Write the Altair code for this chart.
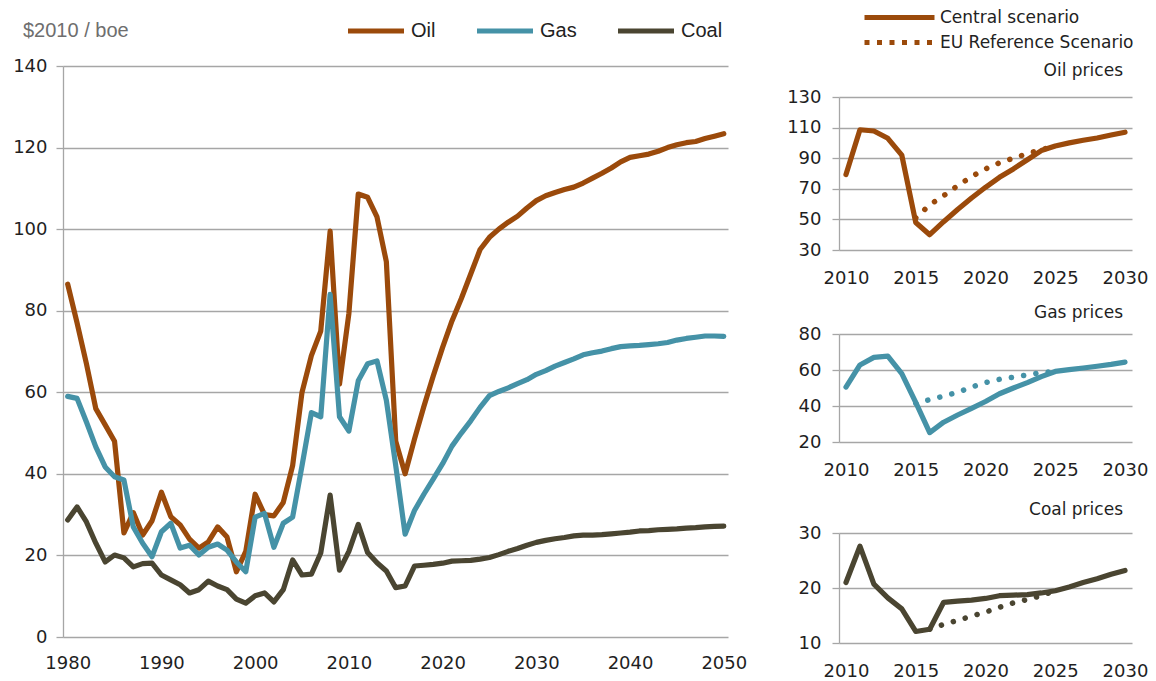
import altair as alt
import pandas as pd

# ---------------- data ----------------
years = list(range(1980, 2051))

oil = [
    86.5, 77, 67, 56, 52, 48, 25.5, 30.5, 25, 28.5,          # 1980-1989
    35.5, 29.5, 27.5, 24, 21.8, 23.3, 27, 24.5, 16, 21,       # 1990-1999
    35, 30, 29.7, 33, 42, 60, 69, 75, 99.5, 62,               # 2000-2009
    79.3, 108.6, 107.8, 103, 92, 48, 40, 48.5, 56.5, 64,      # 2010-2019
    71, 77.5, 83, 89, 95, 98, 100, 101.7, 103.2, 105.2,       # 2020-2029
    107, 108.2, 109, 109.7, 110.3, 111.3, 112.5, 113.7, 115, 116.5,  # 2030-2039
    117.6, 118, 118.4, 119.1, 120, 120.7, 121.2, 121.5, 122.2, 122.8,  # 2040-2049
    123.4,                                                    # 2050
]
gas = [
    59, 58.5, 52.7, 46.6, 41.7, 39.3, 38.5, 27, 23, 19.7,
    25.8, 27.9, 21.8, 22.5, 20.1, 22, 22.8, 21.3, 18.4, 16,
    29.4, 30.3, 22, 27.9, 29.4, 42, 55, 54, 84, 54,
    50.5, 62.8, 67, 67.7, 58, 42, 25.2, 31, 35, 38.7,
    42.5, 46.8, 50, 53, 56.3, 59.2, 60.2, 61.1, 62.1, 63.1,
    64.4, 65.3, 66.4, 67.3, 68.2, 69.2, 69.7, 70.1, 70.7, 71.2,
    71.4, 71.5, 71.7, 71.9, 72.2, 72.8, 73.2, 73.5, 73.8, 73.8,
    73.7,
]
coal = [
    28.7, 31.9, 28.2, 23, 18.4, 20.1, 19.4, 17.2, 18, 18.1,
    15.2, 14, 12.8, 10.8, 11.6, 13.7, 12.5, 11.6, 9.3, 8.3,
    10.1, 10.8, 8.6, 11.6, 18.9, 15.2, 15.4, 20.6, 34.8, 16.4,
    21, 27.6, 20.7, 18.2, 16.2, 12.1, 12.5, 17.4, 17.6, 17.8,
    18.1, 18.6, 18.7, 18.8, 19.1, 19.5, 20.2, 21, 21.7, 22.5,
    23.2, 23.7, 24.1, 24.4, 24.8, 25, 25, 25.1, 25.3, 25.5,
    25.7, 26, 26.1, 26.3, 26.4, 26.5, 26.7, 26.8, 27, 27.1,
    27.2,
]
fuels = ["Oil", "Gas", "Coal"]

# EU Reference Scenario (dotted lines in the small panels)
oil_ref_years = list(range(2015, 2026))
oil_ref = [51, 59.5, 65.5, 72, 78, 83, 87, 90, 93, 95.5, 98]
gas_ref_years = list(range(2015, 2026))
gas_ref = [41.5, 43.5, 45.5, 47.6, 50.5, 53, 54.8, 56, 57.3, 58.6, 59.2]
coal_ref_years = list(range(2016, 2026))
coal_ref = [12.5, 13.4, 14.1, 14.9, 15.6, 16.5, 17.3, 17.9, 18.6, 19.5]

scenarios = ["Central scenario", "EU Reference Scenario"]
main_ticks = [1980, 1990, 2000, 2010, 2020, 2030, 2040, 2050]
small_ticks = [2010, 2015, 2020, 2025, 2030]

# ---------------- style ----------------
FONT = "DejaVu Sans"
LFONT = "Liberation Sans"
OIL_C, GAS_C, COAL_C = "#9B4A0B", "#4592A7", "#4A4531"
GRID_C = "#A6A6A6"
TXT_C = "#1f1f1f"

main_df = pd.DataFrame({
    "year": years * 3,
    "fuel": ["Oil"] * len(years) + ["Gas"] * len(years) + ["Coal"] * len(years),
    "value": oil + gas + coal,
})

# legend swatch: a long horizontal stroke (unit size 14 px -> path spans 56 px)
MAIN_SWATCH = "M-1,0H7"
color_enc = alt.Color(
    "fuel:N",
    scale=alt.Scale(domain=fuels, range=[OIL_C, GAS_C, COAL_C]),
    legend=alt.Legend(
        title="$2010 / boe", titleOrient="left", titleFont=LFONT, titleFontSize=20,
        titleFontWeight="normal", titleColor="#6e6e6e", titlePadding=216,
        titleBaseline="middle",
        orient="none", legendX=-40, legendY=-45, direction="horizontal",
        symbolType=MAIN_SWATCH, symbolSize=196, symbolStrokeWidth=5,
        labelFont=LFONT, labelFontSize=20, labelColor="#222222", labelOffset=46,
        columnPadding=31, labelLimit=300,
    ),
)

mx = alt.X("year:Q", scale=alt.Scale(domain=[1979.5, 2050.45], nice=False, zero=False),
           axis=alt.Axis(values=main_ticks, format="d", title=None, grid=False, domain=False,
                         ticks=False, tickSize=0, labelPadding=17, labelFont=FONT,
                         labelFontSize=18, labelColor=TXT_C, labelFlush=False))
my = alt.Y("value:Q", scale=alt.Scale(domain=[0, 140], nice=False, zero=True),
           axis=alt.Axis(values=list(range(0, 141, 20)), title=None, grid=True,
                         gridColor=GRID_C, gridWidth=1.3, domain=True, domainColor=GRID_C,
                         domainWidth=1.3, ticks=True, tickColor=GRID_C, tickSize=7, tickWidth=1.3,
                         labelPadding=9, labelFont=FONT, labelFontSize=18, labelColor=TXT_C))

main_layers = []
for f in fuels:
    main_layers.append(
        alt.Chart(main_df).transform_filter(alt.datum.fuel == f)
        .mark_line(strokeWidth=5.2, strokeJoin="round", strokeCap="round")
        .encode(x=mx, y=my, color=color_enc)
    )
main = alt.layer(*main_layers).properties(width=665, height=571)


def small(vals, ref_years, ref_vals, color, ydom, ystep, h, title, toff):
    cdf = pd.DataFrame({"year": years[30:51], "value": vals[30:51]})
    rdf = pd.DataFrame({"year": ref_years, "value": ref_vals})
    x = alt.X("year:Q", scale=alt.Scale(domain=[2009.5, 2030.5], nice=False, zero=False),
              axis=alt.Axis(values=small_ticks, format="d", title=None, grid=False, domain=False,
                            ticks=False, tickSize=0, labelPadding=19, labelFont=FONT,
                            labelFontSize=18, labelColor=TXT_C, labelFlush=False))
    y = alt.Y("value:Q", scale=alt.Scale(domain=ydom, nice=False, zero=False),
              axis=alt.Axis(values=list(range(ydom[0], ydom[1] + 1, ystep)), title=None,
                            grid=True, gridColor=GRID_C, gridWidth=1.3, domain=True,
                            domainColor=GRID_C, domainWidth=1.3, ticks=True, tickColor=GRID_C,
                            tickSize=7, tickWidth=1.3, labelPadding=11, labelFont=FONT,
                            labelFontSize=18, labelColor=TXT_C))
    ref = alt.Chart(rdf).mark_line(color=color, strokeWidth=5.5, strokeCap="round",
                                   strokeDash=[0.1, 12.3]).encode(x=x, y=y)
    cen = alt.Chart(cdf).mark_line(color=color, strokeWidth=5.2, strokeCap="round",
                                   strokeJoin="round").encode(x=x, y=y)
    return alt.layer(ref, cen).properties(
        width=293, height=h,
        title=alt.Title(title, anchor="end", frame="group", offset=toff, dx=-9, fontSize=17,
                        font=FONT, fontWeight="normal", color=TXT_C),
    )


oil_c = small(oil, oil_ref_years, oil_ref, OIL_C, [30, 130], 20, 153, "Oil prices", 8)
gas_c = small(gas, gas_ref_years, gas_ref, GAS_C, [20, 80], 20, 108, "Gas prices", 3)
coal_c = small(coal, coal_ref_years, coal_ref, COAL_C, [10, 30], 10, 110, "Coal prices", 5)

# scenario legend swatch: unit size 14 px -> path spans 70 px
SCEN_SWATCH = "M-1,0H9"
leg_df = pd.DataFrame({"scenario": scenarios, "year": [2010, 2010], "value": [0, 0]})
legend_holder = alt.Chart(leg_df).transform_filter("false").mark_line(color=OIL_C).encode(
    x=alt.X("year:Q", axis=None),
    y=alt.Y("value:Q", axis=None),
    strokeDash=alt.StrokeDash(
        "scenario:N",
        scale=alt.Scale(domain=scenarios, range=[[1, 0], [5, 7.5]]),
        legend=alt.Legend(
            title=None, orient="none", legendX=23, legendY=-58, direction="vertical",
            symbolType=SCEN_SWATCH, symbolSize=196, symbolStrokeWidth=5,
            symbolStrokeColor=OIL_C, labelFont=FONT, labelFontSize=17,
            labelColor="#222222", labelOffset=59, rowPadding=4,
            labelLimit=400,
        ),
    ),
).properties(width=293, height=31)

gap_df = pd.DataFrame({"a": [0]})
gap1 = alt.Chart(gap_df).mark_point(opacity=0).properties(width=293, height=84)
gap2 = alt.Chart(gap_df).mark_point(opacity=0).properties(width=293, height=91)

right = alt.vconcat(legend_holder, oil_c, gap1, gas_c, gap2, coal_c,
                    spacing=0, bounds="flush").resolve_scale(
    color="independent", strokeDash="independent")

chart = alt.hconcat(main, right, spacing=111, bounds="flush").resolve_scale(
    color="independent", strokeDash="independent"
).properties(
    padding={"left": 4, "top": 0, "right": 0, "bottom": 0}, background="white"
).configure_view(stroke=None)

chart.save("out.html", embed_options={"renderer": "svg", "actions": False})
